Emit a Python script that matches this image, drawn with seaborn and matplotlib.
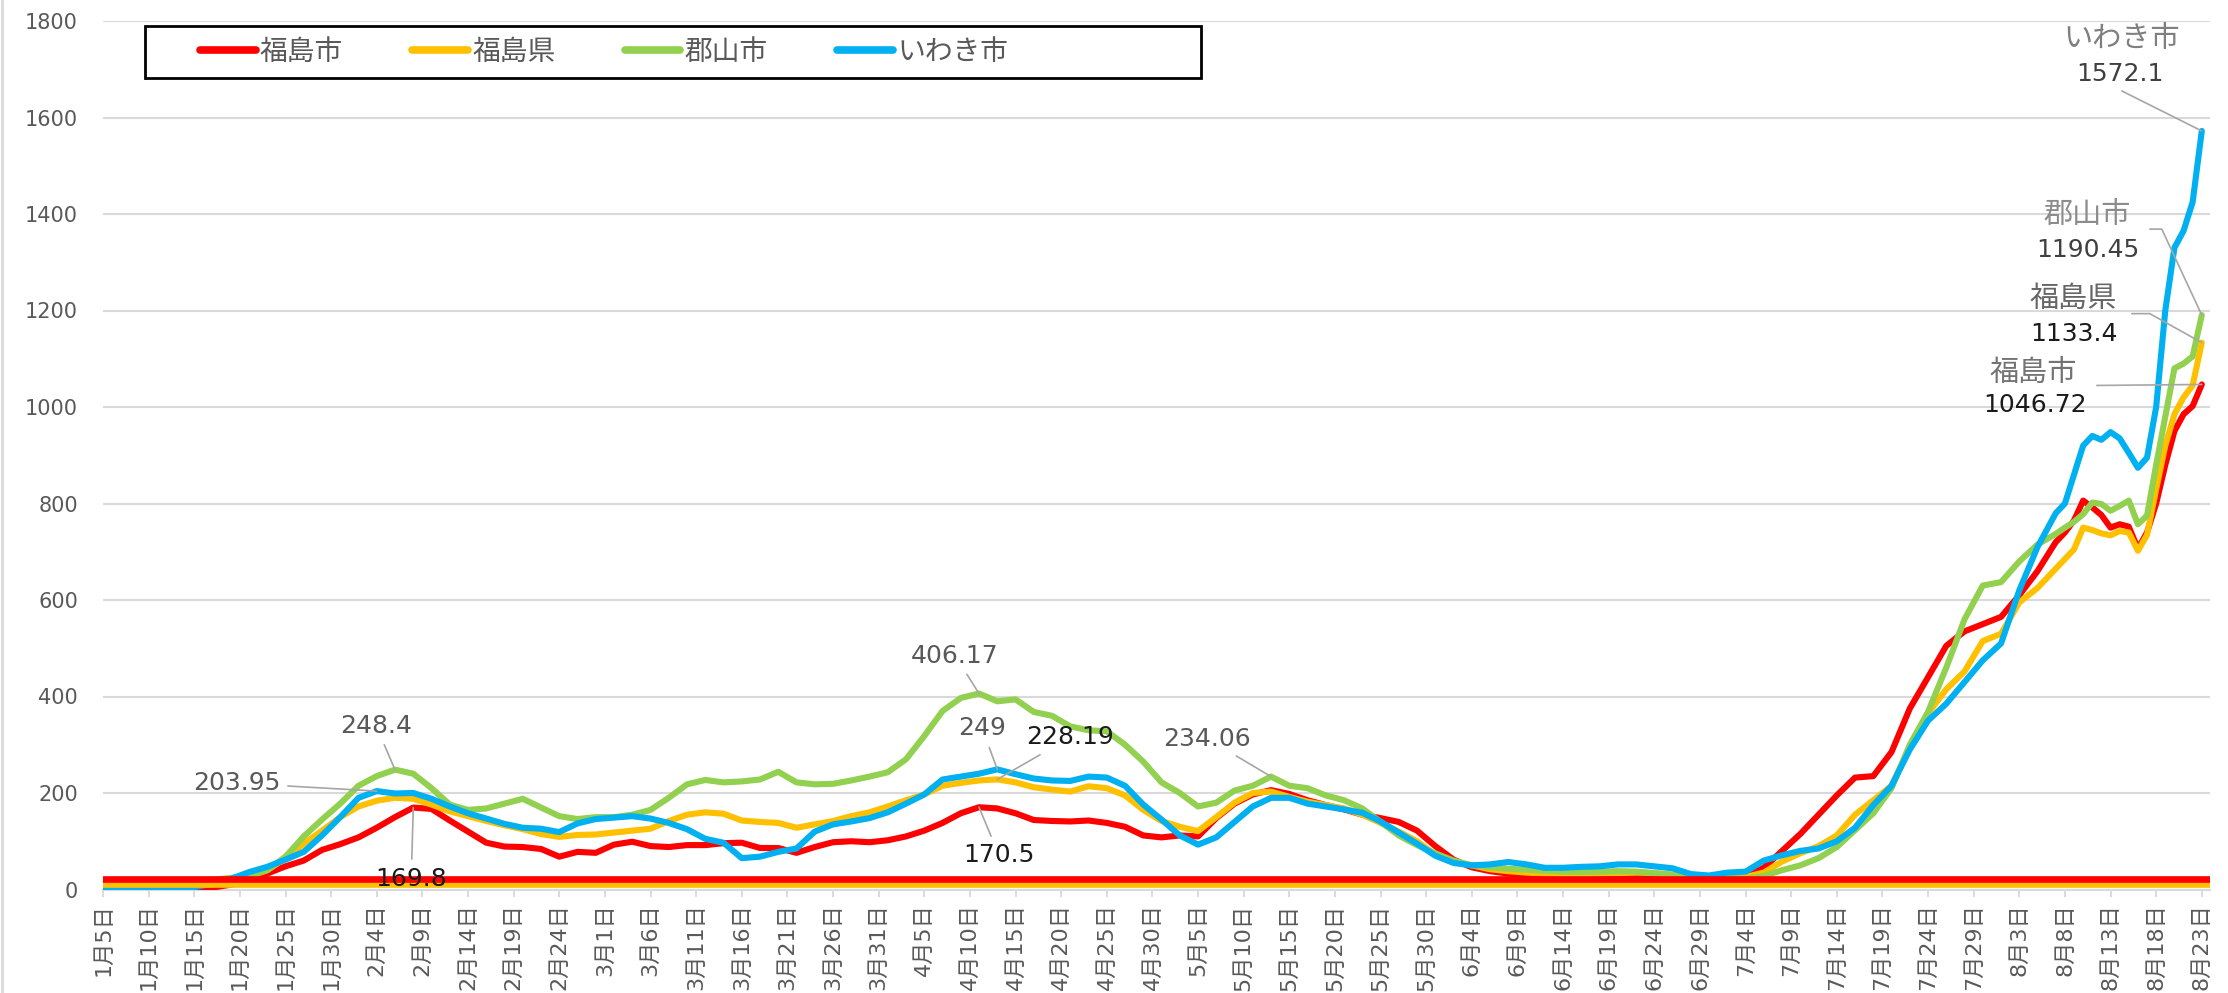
# 福島県内 4地域の推移グラフ (Excel 風の折れ線グラフを seaborn で再現)

import pandas as pd
import matplotlib
matplotlib.use("Agg")
import matplotlib.pyplot as plt
import seaborn as sns
from matplotlib.lines import Line2D
from matplotlib.patches import Rectangle
from matplotlib.transforms import IdentityTransform

# ---- data ----
start_date = "2022-01-05"
# day offsets from 1月5日: every 2 days, then daily for the final stretch
days = list(range(0, 215, 2)) + list(range(215, 231))

fukushima_city = [
    2, 1, 1, 1, 2, 3, 4, 10, 20, 33,
    48, 60, 82, 94, 108, 128, 150, 169.8, 167, 143,
    120, 97, 89, 88, 84, 68, 78, 76, 93, 99,
    90, 88, 92, 92, 96, 97, 86, 86, 76, 88,
    98, 100, 98, 102, 110, 122, 138, 158, 170.5, 168,
    158, 144, 142, 141, 143, 138, 130, 112, 108, 112,
    110, 148, 178, 197, 206, 198, 185, 175, 166, 155,
    148, 140, 122, 90, 62, 46, 38, 33, 30, 27,
    26, 25, 24, 25, 27, 30, 25, 22, 20, 22,
    28, 45, 80, 115, 155, 195, 232, 235, 285, 375,
    440, 505, 535, 550, 565, 610, 660, 720,
    740, 765, 806, 792, 776, 750, 757, 752, 706, 740, 800, 880, 950, 985, 1002, 1046.72,
]
fukushima_pref = [
    5, 5, 5, 6, 8, 12, 18, 22, 28, 40,
    65, 95, 122, 150, 172, 184, 190, 188, 176, 162,
    152, 142, 133, 125, 115, 109, 113, 114, 118, 122,
    126, 142, 155, 160, 157, 143, 140, 138, 128, 135,
    142, 152, 160, 172, 185, 197, 215, 221, 226, 228.19,
    222, 212, 207, 203, 214, 210, 195, 165, 142, 130,
    121, 150, 180, 200, 203, 192, 182, 175, 168, 155,
    138, 120, 100, 72, 58, 50, 42, 38, 35, 33,
    32, 32, 33, 34, 35, 34, 30, 27, 25, 24,
    26, 35, 58, 75, 90, 112, 155, 185, 215, 295,
    365, 415, 452, 515, 530, 595, 625, 665,
    685, 705, 750, 745, 738, 734, 743, 740, 702, 735, 830, 920, 985, 1020, 1045, 1133.4,
]
koriyama_city = [
    5, 4, 4, 5, 8, 14, 20, 24, 28, 40,
    68, 110, 145, 178, 215, 235, 248.4, 240, 210, 176,
    165, 168, 178, 188, 170, 152, 146, 150, 150, 155,
    165, 190, 218, 227, 222, 224, 228, 244, 222, 218,
    219, 226, 234, 243, 270, 318, 370, 397, 406.17, 390,
    394, 368, 360, 338, 330, 328, 300, 265, 222, 200,
    172, 180, 205, 215, 234.06, 215, 210, 195, 185, 168,
    140, 112, 92, 75, 60, 50, 46, 43, 41, 39,
    37, 36, 37, 38, 37, 34, 31, 29, 26, 24,
    22, 28, 40, 50, 65, 88, 123, 158, 210, 300,
    368, 460, 560, 630, 637, 680, 715, 737,
    750, 762, 778, 802, 799, 785, 795, 806, 757, 775, 880, 980, 1080, 1090, 1105, 1190.45,
]
iwaki_city = [
    3, 2, 2, 2, 3, 5, 12, 22, 36, 47,
    62, 78, 112, 150, 190, 203.95, 199, 200, 188, 172,
    158, 147, 136, 128, 126, 119, 137, 146, 149, 152,
    147, 138, 125, 105, 97, 65, 68, 78, 85, 120,
    135, 141, 148, 160, 178, 197, 228, 234, 240, 249,
    239, 230, 226, 225, 234, 232, 215, 176, 145, 112,
    93, 108, 140, 172, 190, 190, 178, 172, 166, 159,
    141, 118, 95, 70, 55, 50, 52, 57, 52, 45,
    45, 47, 48, 52, 52, 48, 44, 32, 29, 35,
    37, 60, 71, 80, 85, 100, 128, 175, 215, 290,
    350, 385, 430, 475, 510, 620, 710, 780,
    800, 860, 920, 940, 932, 948, 935, 905, 874, 895, 1000, 1200, 1330, 1365, 1425, 1572.1,
]

areas = ["福島市", "福島県", "郡山市", "いわき市"]
colors = ["#ff0000", "#ffc000", "#92d050", "#00b0f0"]

# the two thick reference lines near the bottom
red_level = 22
yellow_level = 12

# labelled points: (area, day offset, text colour, offset in px)
labels = [
    ("郡山市", 32, "#595959", (-19, 44)),
    ("いわき市", 30, "#595959", (-140, 8)),
    ("福島市", 34, "#1a1a1a", (-2, -71)),
    ("郡山市", 96, "#595959", (-24, 38)),
    ("いわき市", 98, "#595959", (-15, 41)),
    ("福島県", 98, "#1a1a1a", (73, 42)),
    ("福島市", 96, "#1a1a1a", (20, -48)),
    ("郡山市", 128, "#595959", (-64, 38)),
]
# labels at the last day: (area, name colour, value colour, name offset,
#                          value offset, leader points) - offsets in px from the point
end_labels = [
    ("いわき市", "#7f7f7f", "#404040", (-80, 92), (-82, 57), [(-80, 40)]),
    ("郡山市", "#8c8c8c", "#404040", (-115, 100), (-114, 65), [(-52, 86), (-40, 86)]),
    ("福島県", "#666666", "#1a1a1a", (-129, 44), (-128, 9), [(-70, 29), (-52, 29)]),
    ("福島市", "#737373", "#1a1a1a", (-169, 12), (-167, -21), [(-105, -1)]),
]

series = dict(zip(areas, [fukushima_city, fukushima_pref, koriyama_city, iwaki_city]))
frames = [pd.DataFrame({"day": days, "value": vals, "area": name}) for name, vals in series.items()]
df = pd.concat(frames, ignore_index=True)

# ---- plotting ----
sns.set_theme(style="white")
plt.rcParams["font.family"] = ["DejaVu Sans", "Noto Sans CJK JP"]

W, H = 2228, 993
fig = plt.figure(figsize=(W / 100, H / 100), dpi=100)
ax = fig.add_axes([103 / W, 1 - 889.5 / H, (2210 - 103) / W, (889.5 - 21) / H])

sns.lineplot(data=df, x="day", y="value", hue="area", hue_order=areas,
             palette=dict(zip(areas, colors)), linewidth=4.4, estimator=None,
             legend=False, ax=ax, zorder=3)

ax.axhline(yellow_level, color="#ffc000", lw=4.8, zorder=5)
ax.axhline(red_level, color="#ff0000", lw=4.8, zorder=6)

ax.set_xlim(0, 230.9)
ax.set_ylim(0, 1800)
ax.set_yticks(range(0, 1801, 200))

dates = pd.date_range(start_date, periods=231, freq="D")
tick_days = list(range(0, 231, 5))
ax.set_xticks(tick_days)
ax.set_xticklabels([f"{dates[d].month}月{dates[d].day}日" for d in tick_days],
                   rotation=90, fontsize=16, color="#595959")
ax.tick_params(axis="x", length=5, width=1.3, color="#d9d9d9", direction="out", pad=5, bottom=True)
ax.tick_params(axis="y", length=0, pad=18, labelsize=15, labelcolor="#595959")
ax.set_xlabel("")
ax.set_ylabel("")

ax.yaxis.grid(True, color="#d9d9d9", lw=1.5)
ax.xaxis.grid(False)
for side in ["left", "right", "top"]:
    ax.spines[side].set_visible(False)
ax.spines["bottom"].set_color("#d9d9d9")
ax.spines["bottom"].set_linewidth(1.5)

leader = dict(arrowstyle="-", color="#a6a6a6", lw=1.2, shrinkA=3, shrinkB=0)
for name, day, tcol, off in labels:
    v = series[name][days.index(day)]
    ax.annotate(f"{v:g}", xy=(day, v), xytext=off, textcoords="offset pixels",
                ha="center", va="center", fontsize=18, color=tcol,
                arrowprops=leader, zorder=8)

for name, ncol, vcol, noff, voff, lpts in end_labels:
    v = series[name][-1]
    pt = (days[-1], v)
    px, py = ax.transData.transform(pt)
    xs = [px + dx for dx, _ in lpts] + [px]
    ys = [py + dy for _, dy in lpts] + [py]
    fig.add_artist(Line2D(xs, ys, transform=IdentityTransform(), color="#a6a6a6", lw=1.2, zorder=8))
    ax.annotate(name, xy=pt, xytext=noff, textcoords="offset pixels",
                ha="center", va="center", fontsize=21, color=ncol, zorder=8)
    ax.annotate(f"{v:g}", xy=pt, xytext=voff, textcoords="offset pixels",
                ha="center", va="center", fontsize=18, color=vcol, zorder=8)

# legend inside a black box, like the Excel one
box = Rectangle((145 / W, 1 - 78 / H), (1201 - 145) / W, 52 / H, transform=fig.transFigure,
                facecolor="white", edgecolor="black", lw=2, zorder=4)
fig.add_artist(box)
handles = [Line2D([], [], color=c, lw=5.5) for c in colors]
fig.legend(handles, areas, loc="center left", bbox_to_anchor=(200 / W, 1 - 52 / H),
           ncol=4, frameon=False, fontsize=20, handlelength=2.0, handletextpad=0.15,
           columnspacing=2.5, borderpad=0, borderaxespad=0, labelcolor="#595959")

# thin chart border on the left
fig.add_artist(Line2D([1.5 / W, 1.5 / W], [0, 1], transform=fig.transFigure, color="#d9d9d9", lw=2))

fig.savefig("out.png", dpi=100)
